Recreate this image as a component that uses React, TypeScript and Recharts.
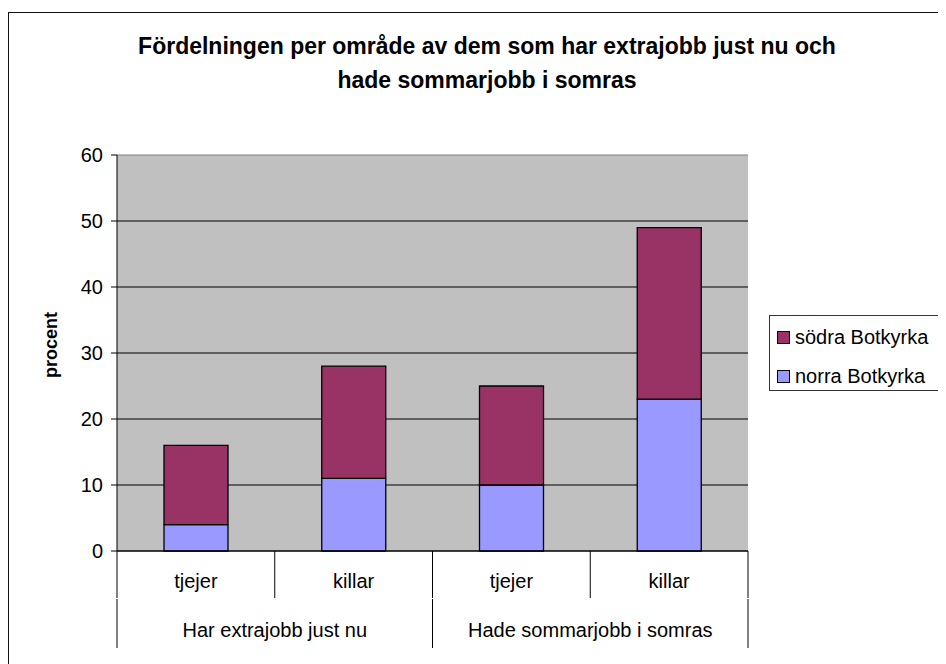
import React from "react";
import {
  BarChart,
  Bar,
  XAxis,
  YAxis,
  CartesianGrid,
} from "recharts";

// values (procent)
const categories = ["tjejer", "killar", "tjejer", "killar"];
const groups = [
  "Har extrajobb just nu",
  "Har extrajobb just nu",
  "Hade sommarjobb i somras",
  "Hade sommarjobb i somras",
];
const norra = [4, 11, 10, 23];
const sodra = [12, 17, 15, 26];
const yTicks = [0, 10, 20, 30, 40, 50, 60];

const data = categories.map((c, i) => ({
  sub: c,
  group: groups[i],
  norra: norra[i],
  sodra: sodra[i],
}));

const FONT = '"Liberation Sans", Arial, sans-serif';
const W = 938;
const H = 656;
const MARGIN = { top: 147, right: 198, bottom: 15, left: 0 };
const Y_AXIS_W = 109;
const PLOT_W = W - MARGIN.left - MARGIN.right - Y_AXIS_W;
const BAND = PLOT_W / categories.length;

const SubTick = (props: any) => {
  const { x, y, payload, index } = props;
  return (
    <g>
      <text x={x} y={y + 37} textAnchor="middle" fontSize={20} fontFamily={FONT} fill="#000">
        {payload.value}
      </text>
      <line x1={x - BAND / 2} x2={x - BAND / 2} y1={y} y2={y + 47} stroke="#000" />
      {index === categories.length - 1 && (
        <line x1={x + BAND / 2} x2={x + BAND / 2} y1={y} y2={y + 47} stroke="#000" />
      )}
    </g>
  );
};

const GroupTick = (props: any) => {
  const { x, y, payload, index } = props;
  if (index % 2 !== 0) return <g />;
  return (
    <g>
      <text x={x + BAND / 2} y={y + 38} textAnchor="middle" fontSize={20} fontFamily={FONT} fill="#000">
        {payload.value}
      </text>
      <line x1={x - BAND / 2} x2={x - BAND / 2} y1={y} y2={y + 49} stroke="#000" />
      {index === categories.length - 2 && (
        <line x1={x + (3 * BAND) / 2} x2={x + (3 * BAND) / 2} y1={y} y2={y + 49} stroke="#000" />
      )}
    </g>
  );
};

const gridLine = (p: any) => (
  <line
    key={p.key}
    x1={p.x1}
    y1={p.y1}
    x2={p.x2}
    y2={p.y2}
    stroke={Math.abs(p.y1 - p.y) < 1 ? "#808080" : "#000"}
    strokeWidth={1}
  />
);

const legendItems = [
  { name: "södra Botkyrka", color: "#993366" },
  { name: "norra Botkyrka", color: "#9999FF" },
];

// legend box runs past the right edge, as in the original
const LegendBox = () => (
  <div
    style={{
      position: "absolute",
      left: 761,
      top: 307,
      border: "1px solid #333",
      width: 230,
      height: 74,
      fontFamily: FONT,
      fontSize: 20,
      background: "#fff",
    }}
  >
    {legendItems.map((it, i) => (
      <div
        key={it.name}
        style={{ position: "absolute", left: 7, top: 9 + i * 39, height: 24, display: "flex", alignItems: "center" }}
      >
        <span
          style={{
            display: "inline-block",
            width: 11,
            height: 11,
            background: it.color,
            border: "1.5px solid #000",
            marginRight: 5,
          }}
        />
        <span style={{ color: "#000", whiteSpace: "nowrap" }}>{it.name}</span>
      </div>
    ))}
  </div>
);

const App = () => {
  return (
    <div style={{ position: "relative", width: W, height: H, overflow: "hidden" }}>
      <div
        style={{
          position: "absolute",
          left: 0,
          top: 4,
          width: W + 20,
          height: H + 20,
          borderTop: "1.3px solid #111",
          borderLeft: "1.3px solid #111",
        }}
      />
      <div
        style={{
          position: "absolute",
          left: 79,
          top: 21,
          width: 800,
          textAlign: "center",
          fontFamily: FONT,
          fontWeight: "bold",
          fontSize: 23,
          lineHeight: "34px",
          color: "#000",
        }}
      >
        Fördelningen per område av dem som har extrajobb just nu och
        <br />
        hade sommarjobb i somras
      </div>
      <div style={{ position: "absolute", left: 0, top: 0 }}>
        <BarChart width={W} height={H} data={data} margin={MARGIN}>
          <CartesianGrid
            vertical={false}
            fill="#C0C0C0"
            fillOpacity={1}
            horizontal={gridLine}
          />
          <XAxis
            dataKey="sub"
            height={48}
            axisLine={{ stroke: "#000" }}
            tickLine={false}
            tickSize={0}
            tickMargin={0}
            tick={<SubTick />}
            interval={0}
          />
          <XAxis
            xAxisId="grp"
            dataKey="group"
            height={50}
            axisLine={false}
            tickLine={false}
            tickSize={0}
            tickMargin={0}
            tick={<GroupTick />}
            interval={0}
          />
          <YAxis
            width={Y_AXIS_W}
            domain={[0, 60]}
            ticks={yTicks}
            interval={0}
            axisLine={{ stroke: "#000" }}
            tickLine={{ stroke: "#000" }}
            tickSize={6}
            tickMargin={8}
            tick={{ fontSize: 20, fontFamily: FONT, fill: "#000" }}
            label={(lp: any) => {
              const vb = lp.viewBox;
              const cx = vb.x + 43;
              const cy = vb.y + vb.height / 2 - 8;
              return (
                <text
                  x={cx}
                  y={cy}
                  transform={`rotate(-90 ${cx} ${cy})`}
                  textAnchor="middle"
                  dominantBaseline="central"
                  fontSize={18}
                  fontWeight="bold"
                  fontFamily={FONT}
                  fill="#000"
                >
                  procent
                </text>
              );
            }}
          />
          <YAxis
            yAxisId="right"
            orientation="right"
            width={0}
            tick={false}
            tickLine={false}
            axisLine={{ stroke: "#808080" }}
          />
          <Bar
            dataKey="norra"
            name="norra Botkyrka"
            stackId="a"
            fill="#9999FF"
            stroke="#000"
            strokeWidth={1.3}
            barSize={64}
            isAnimationActive={false}
          />
          <Bar
            dataKey="sodra"
            name="södra Botkyrka"
            stackId="a"
            fill="#993366"
            stroke="#000"
            strokeWidth={1.3}
            barSize={64}
            isAnimationActive={false}
          />
        </BarChart>
      </div>
      <LegendBox />
    </div>
  );
};

export default App;
